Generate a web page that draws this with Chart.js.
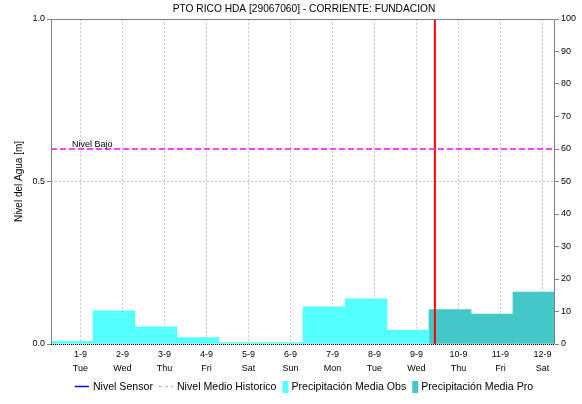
<!DOCTYPE html>
<html><head><meta charset="utf-8">
<script src="https://cdn.jsdelivr.net/npm/chart.js@4/dist/chart.umd.min.js"></script>
<style>html,body{margin:0;padding:0;background:#fff;}#wrap{width:582px;height:404px;}</style>
</head><body><div id="wrap"><canvas id="c" width="582" height="404"></canvas></div>
<script>
// ---- data ----
const titleText = 'PTO RICO HDA [29067060] - CORRIENTE: FUNDACION';
const yAxisTitle = 'Nivel del Agua [m]';
const categories = ['1-9','2-9','3-9','4-9','5-9','6-9','7-9','8-9','9-9','10-9','11-9','12-9'];
const weekdays = ['Tue','Wed','Thu','Fri','Sat','Sun','Mon','Tue','Wed','Thu','Fri','Sat'];
const precipObs = [0.8, 10.2, 5.3, 2.0, 0.4, 0.4, 11.4, 13.9, 4.2, null, null, null];
const precipPro = [null, null, null, null, null, null, null, null, null, 10.6, 9.2, 16.0];
const nivelBajo = 0.6;
const nivelBajoLabel = 'Nivel Bajo';
const sensorNow = 9.44;          // current time, in day units (1 = 1-9)
const levelRange = [0, 1];
const levelStep = 0.5;
const precipRange = [0, 100];
const precipStep = 10;
const dayStart = 0.3;            // day window begins 0.7 day before the first label
const legendNames = ['Nivel Sensor', 'Nivel Medio Historico', 'Precipitación Media Obs', 'Precipitación Media Pro'];

// ---- styles ----
const FONT = '"Liberation Sans", Arial, sans-serif';
const C_OBS = '#55ffff', C_PRO = '#44c7c7', C_BAJO = '#ff44ff', C_NOW = '#ff0000';
const C_SENSOR = '#0000ff', C_HIST = '#c0c0c0', C_AXIS = '#808080', C_GRID = '#c8c8c8';

const xMin = dayStart, xMax = dayStart + categories.length;
const toBars = arr => arr.map((v, i) => v == null ? null : { x: i + dayStart + 0.5, y: v }).filter(Boolean);

Chart.defaults.font.family = FONT;
Chart.defaults.color = '#000';

const framePlugin = {
  id: 'frame',
  afterDatasetsDraw(chart) {
    const { ctx, chartArea: a } = chart;
    ctx.save();
    ctx.lineWidth = 1;
    ctx.strokeStyle = C_AXIS;
    ctx.beginPath();
    ctx.moveTo(a.left + 0.5, a.bottom); ctx.lineTo(a.left + 0.5, a.top + 0.5);
    ctx.lineTo(a.right - 0.5, a.top + 0.5); ctx.lineTo(a.right - 0.5, a.bottom);
    ctx.stroke();
    ctx.strokeStyle = '#000';
    ctx.setLineDash([1, 1]);
    ctx.beginPath();
    ctx.moveTo(a.left, a.bottom + 0.5); ctx.lineTo(a.right, a.bottom + 0.5);
    ctx.stroke();
    ctx.setLineDash([]);
    // Nivel Bajo label
    const yb = chart.scales.y.getPixelForValue(nivelBajo);
    ctx.fillStyle = '#000';
    ctx.font = '9px ' + FONT;
    ctx.textAlign = 'left'; ctx.textBaseline = 'alphabetic';
    ctx.fillText(nivelBajoLabel, a.left + 21, yb - 2);
    ctx.restore();
  },
  afterDraw(chart) {
    const { ctx, chartArea: a } = chart;
    ctx.save();
    const cx = (a.left + a.right) / 2 + 1;
    // title
    ctx.fillStyle = '#000';
    ctx.font = '10.2px ' + FONT;
    ctx.textAlign = 'center'; ctx.textBaseline = 'middle';
    ctx.fillText(titleText, cx, 9);
    // y title
    ctx.save();
    ctx.translate(19.5, (a.top + a.bottom) / 2);
    ctx.rotate(-Math.PI / 2);
    ctx.font = '10px ' + FONT;
    ctx.fillText(yAxisTitle, 0, 0);
    ctx.restore();
    // legend
    const items = [
      { text: legendNames[0], kind: 'line', color: C_SENSOR, dash: [] },
      { text: legendNames[1], kind: 'line', color: C_HIST, dash: [3, 3] },
      { text: legendNames[2], kind: 'box', color: C_OBS },
      { text: legendNames[3], kind: 'box', color: C_PRO }
    ];
    ctx.font = '10.6px ' + FONT;
    const widths = items.map(it => (it.kind === 'line' ? 14 + 4 : 6 + 3) + ctx.measureText(it.text).width);
    const total = widths.reduce((s, w) => s + w, 0) + 6 * (items.length - 1);
    let x = cx - total / 2;
    const ly = 386;
    ctx.textAlign = 'left'; ctx.textBaseline = 'middle';
    items.forEach((it, i) => {
      if (it.kind === 'line') {
        ctx.strokeStyle = it.color; ctx.lineWidth = 1.5; ctx.setLineDash(it.dash);
        ctx.beginPath(); ctx.moveTo(x, ly + 0.5); ctx.lineTo(x + 14, ly + 0.5); ctx.stroke();
        ctx.setLineDash([]);
        ctx.fillStyle = '#000';
        ctx.fillText(it.text, x + 18, ly + 1);
      } else {
        ctx.fillStyle = it.color;
        ctx.fillRect(x, ly - 5, 6, 12);
        ctx.fillStyle = '#000';
        ctx.fillText(it.text, x + 9, ly + 1);
      }
      x += widths[i] + 6;
    });
    ctx.restore();
  }
};

new Chart(document.getElementById('c'), {
  type: 'bar',
  data: {
    datasets: [
      { type: 'line', label: legendNames[0], data: [], borderColor: C_SENSOR, borderWidth: 1.5, pointRadius: 0, yAxisID: 'y', order: 0 },
      { type: 'line', label: legendNames[1], data: [], borderColor: C_HIST, borderDash: [3, 3], borderWidth: 1, pointRadius: 0, yAxisID: 'y', order: 0 },
      { type: 'line', label: nivelBajoLabel, data: [{ x: xMin, y: nivelBajo }, { x: xMax, y: nivelBajo }],
        borderColor: C_BAJO, borderDash: [6, 3], borderWidth: 2, pointRadius: 0, yAxisID: 'y', order: 0 },
      { type: 'line', label: 'Ahora', data: [{ x: sensorNow, y: levelRange[0] }, { x: sensorNow, y: levelRange[1] }],
        borderColor: C_NOW, borderWidth: 2, pointRadius: 0, yAxisID: 'y', order: 0 },
      { label: legendNames[2], data: toBars(precipObs), backgroundColor: C_OBS, borderWidth: 0, yAxisID: 'y2', order: 1,
        barPercentage: 1, categoryPercentage: 1, grouped: false },
      { label: legendNames[3], data: toBars(precipPro), backgroundColor: C_PRO, borderWidth: 0, yAxisID: 'y2', order: 1,
        barPercentage: 1, categoryPercentage: 1, grouped: false }
    ]
  },
  options: {
    responsive: false,
    animation: false,
    layout: { padding: { top: 19, left: 0, right: 0, bottom: 0 } },
    plugins: { legend: { display: false }, title: { display: false }, tooltip: { enabled: false } },
    scales: {
      x: {
        type: 'linear', min: xMin, max: xMax, offset: false,
        afterBuildTicks: s => { s.ticks = categories.map((c, i) => ({ value: i + 1 })); },
        afterFit: s => { s.height = 60; },
        ticks: {
          autoSkip: false, maxRotation: 0, padding: 4,
          font: { size: 9, lineHeight: 1.5 },
          callback: v => { const i = Math.round(v) - 1; return [categories[i], weekdays[i]]; }
        },
        grid: { color: C_GRID, drawTicks: false, offset: false },
        border: { display: false, dash: [2, 2] }
      },
      y: {
        position: 'left', min: levelRange[0], max: levelRange[1],
        afterFit: s => { s.width = 51; },
        ticks: { stepSize: levelStep, padding: 2, font: { size: 9 }, callback: v => v.toFixed(1) },
        grid: { color: C_GRID, tickColor: C_AXIS, tickLength: 4, tickBorderDash: [] },
        border: { display: false, dash: [2, 2] }
      },
      y2: {
        position: 'right', min: precipRange[0], max: precipRange[1],
        afterFit: s => { s.width = 27; },
        ticks: { stepSize: precipStep, padding: 2, font: { size: 9 } },
        grid: { drawOnChartArea: false, tickColor: C_AXIS, tickLength: 4 },
        border: { display: false }
      }
    }
  },
  plugins: [framePlugin]
});
</script></body></html>
